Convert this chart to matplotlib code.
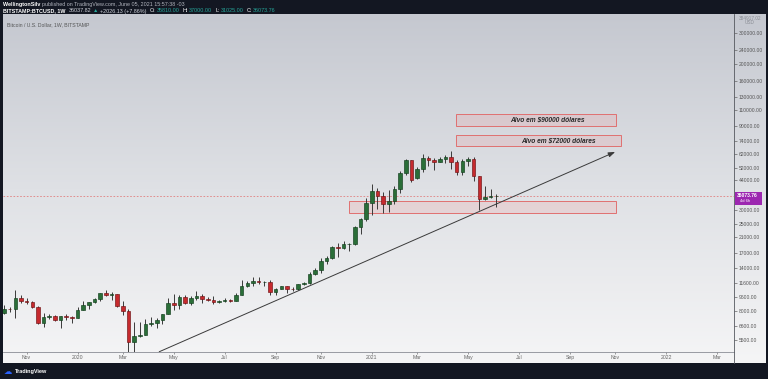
import numpy as np
import pandas as pd
import matplotlib
matplotlib.use('Agg')
import matplotlib.pyplot as plt
import matplotlib.dates as mdates
from matplotlib.patches import Rectangle
from matplotlib.lines import Line2D
from matplotlib.colors import LinearSegmentedColormap
from matplotlib.ticker import NullLocator

# ---------------- data ----------------
start_week = '2019-10-07'
opens = [7860, 8280, 8230, 9550, 9200, 9040, 8500, 6900, 7420, 7520, 7120, 7500, 7390,
         7350, 8170, 8700, 8970, 9330, 10150, 9910, 9960, 8540, 8040, 5360, 5830, 5880,
         6780, 6900, 7130, 7700, 8900, 8720, 9680, 8900, 9450, 9750, 9330, 9300, 9000,
         9100, 9250, 9200, 9930, 11050, 11550, 11900, 11650, 11700, 10250, 10680, 11080,
         10740, 10670, 11380, 11500, 13030, 13760, 15480, 15950, 18400, 18180, 19100,
         19250, 23860, 26450, 33000, 38200, 36000, 32300, 33500, 39250, 48600, 57400,
         45200, 51000, 59000, 57400, 55800, 58200, 59800, 56200, 49000, 56600, 58300,
         46400, 34700, 35600, 35810]
highs = [8700, 8420, 10540, 9950, 9500, 9100, 8550, 7850, 7750, 7650, 7520, 7700, 7550,
         8480, 9190, 9000, 9550, 10200, 10500, 10250, 9990, 9190, 8190, 6940, 6960, 7200,
         7470, 7300, 7730, 9480, 10070, 9950, 9900, 9740, 10380, 9990, 9600, 9800, 9300,
         9460, 9350, 10130, 12000, 11900, 12480, 12450, 11800, 12090, 10800, 11180, 11080,
         10950, 11480, 11720, 13350, 14100, 15950, 16500, 18800, 19500, 19900, 19400,
         24300, 26900, 34800, 41950, 40100, 37800, 38600, 40900, 49700, 58300, 57500,
         52600, 61700, 60600, 58600, 60000, 61200, 64900, 57500, 58400, 59500, 59600,
         46600, 40900, 39500, 37000]
lows = [7770, 7900, 7300, 8960, 8800, 8400, 6790, 6520, 7250, 7080, 6430, 7150, 6860,
        7350, 8100, 8250, 8880, 9120, 9750, 9300, 8450, 7650, 3850, 4450, 5700, 5860,
        6600, 6450, 6800, 7670, 8120, 8200, 8800, 8630, 9270, 8900, 9200, 8830, 8900,
        9050, 9000, 9150, 9900, 10950, 11100, 11450, 11150, 9880, 9880, 10650, 10140,
        10380, 10550, 11200, 11400, 12900, 13200, 14800, 15800, 16200, 18100, 17600,
        19000, 21900, 26100, 28100, 30400, 28900, 29200, 32300, 37400, 47100, 43000,
        45100, 49300, 53300, 50400, 55600, 55500, 51300, 47000, 47000, 53000, 43900,
        30000, 34300, 35000, 31025]
closes = [8280, 8230, 9550, 9200, 9040, 8500, 6900, 7420, 7520, 7120, 7500, 7390, 7350,
          8170, 8700, 8970, 9330, 10150, 9910, 9960, 8540, 8040, 5360, 5830, 5880, 6780,
          6900, 7130, 7700, 8900, 8720, 9680, 8900, 9450, 9750, 9330, 9300, 9000, 9100,
          9250, 9200, 9930, 11050, 11550, 11900, 11650, 11700, 10250, 10680, 11080, 10740,
          10670, 11380, 11500, 13030, 13760, 15480, 15950, 18400, 18180, 19100, 19250,
          23860, 26450, 33000, 38200, 36000, 32300, 33500, 39250, 48600, 57400, 44500,
          51000, 59000, 57400, 55800, 58200, 59800, 56200, 49000, 56600, 58300, 46400,
          34700, 35600, 35810, 36073.76]

price_ticks = [300000, 240000, 200000, 160000, 130000, 110000, 90000, 74000, 62000,
               52000, 44000, 30000, 25000, 21000, 17000, 14000, 11600, 9600, 8000,
               6600, 5500]
time_tick_dates = ['2019-11-04', '2020-01-06', '2020-03-02', '2020-05-04', '2020-07-06',
                   '2020-09-07', '2020-11-02', '2021-01-04', '2021-03-01', '2021-05-03',
                   '2021-07-05', '2021-09-06', '2021-11-01', '2022-01-03', '2022-03-07']
time_tick_labels = ['Nov', '2020', 'Mar', 'May', 'Jul', 'Sep', 'Nov', '2021', 'Mar',
                    'May', 'Jul', 'Sep', 'Nov', '2022', 'Mar']

zone_starts = ['2021-04-18', '2021-04-18', '2020-12-07']
zone_ends = ['2021-11-02', '2021-11-08', '2021-11-02']
zone_lows = [90000, 69000, 28800]
zone_highs = [104000, 79500, 33600]
zone_labels = ['Alvo em $90000 dólares', 'Alvo em $72000 dólares']
zone_label_dates = ['2021-08-09', '2021-08-23']
zone_label_prices = [97300, 73600]

trend_start = ('2020-04-16', 4720)
trend_end = ('2021-11-01', 63800)

last_price = 36073.76
axis_top_value = '384917.02'

# ---------------- figure ----------------
W, H = 768, 379
plt.rcParams['font.family'] = ['Liberation Sans', 'DejaVu Sans']
fig = plt.figure(figsize=(W / 100, H / 100), dpi=100, facecolor='#131722')


def fx(px):
    return px / W


def fy(py):
    return 1 - py / H


# gradient background of the chart pane
bg = fig.add_axes([fx(3), fy(363), fx(766) - fx(3), fy(14) - fy(363)])
grad = np.linspace(0, 1, 256).reshape(-1, 1)
cmap = LinearSegmentedColormap.from_list('g', ['#c5c8d0', '#dfe1e5', '#f5f5f6'])
bg.imshow(grad, aspect='auto', cmap=cmap, extent=[0, 1, 0, 1], origin='upper')
bg.axis('off')

ax = fig.add_axes([fx(3), fy(352), fx(734) - fx(3), fy(14) - fy(352)])
ax.set_facecolor('none')
ax.set_yscale('log')
ax.set_ylim(4705, 384917)
d0 = mdates.date2num(pd.Timestamp(start_week))
ax.set_xlim(d0 - 1.24, mdates.date2num(pd.Timestamp('2022-03-07')) + 21)

dates = pd.date_range(start_week, periods=len(opens), freq='7D')
xs = mdates.date2num(dates.to_pydatetime())
o = np.array(opens, float)
c = np.array(closes, float)
hi = np.array(highs, float)
lo = np.array(lows, float)
up = c >= o
fills = np.where(up, '#2a6e38', '#c62a2e')
edges = np.where(up, '#123d1c', '#6e1214')

ax.vlines(xs, lo, hi, color='#3a3a3a', lw=0.7, zorder=2)
ax.bar(xs, np.abs(c - o), bottom=np.minimum(o, c), width=4.4, color=fills,
       edgecolor=edges, linewidth=0.45, zorder=3)

# zones
for s, e, l, h in zip(zone_starts, zone_ends, zone_lows, zone_highs):
    xa = mdates.date2num(pd.Timestamp(s))
    xb = mdates.date2num(pd.Timestamp(e))
    ax.add_patch(Rectangle((xa, l), xb - xa, h - l, facecolor=(0.95, 0.55, 0.55, 0.18),
                           edgecolor='#e07070', linewidth=0.7, zorder=1.5))
for t, d, p in zip(zone_labels, zone_label_dates, zone_label_prices):
    ax.text(mdates.date2num(pd.Timestamp(d)), p, t, ha='center', va='center',
            fontsize=4.8, style='italic', fontweight='bold', color='#2a2a2a', zorder=4)

# trend line with arrow
ax.annotate('', xy=(mdates.date2num(pd.Timestamp(trend_end[0])), trend_end[1]),
            xytext=(mdates.date2num(pd.Timestamp(trend_start[0])), trend_start[1]),
            arrowprops=dict(arrowstyle='-|>,head_length=0.5,head_width=0.18',
                            color='#3a3a3a', lw=0.7, shrinkA=0, shrinkB=0,
                            mutation_scale=8), zorder=2.5)

# last price dashed line
ax.axhline(last_price, color='#e08080', lw=0.6, ls=(0, (2, 2)), zorder=1.8)

# axes styling
for sp in ['top', 'left', 'right']:
    ax.spines[sp].set_visible(False)
ax.spines['bottom'].set_color('#8a8d95')
ax.spines['bottom'].set_linewidth(0.6)
ax.yaxis.tick_right()
ax.set_yticks(price_ticks)
ax.set_yticklabels([f'{v:.2f}' for v in price_ticks])
ax.yaxis.set_minor_locator(NullLocator())
ax.tick_params(axis='y', length=2, width=0.5, color='#666', labelsize=3.6,
               labelcolor='#555', pad=1.5)
ax.set_xticks([mdates.date2num(pd.Timestamp(d)) for d in time_tick_dates])
ax.set_xticklabels(time_tick_labels)
ax.xaxis.set_minor_locator(NullLocator())
ax.tick_params(axis='x', length=1.2, width=0.5, color='#777', labelsize=3.7,
               labelcolor='#666', pad=1.2)

fig.add_artist(Line2D([fx(734), fx(734)], [fy(14), fy(363)], color='#55585f', lw=0.6))

# price label box
fig.canvas.draw()
py = ax.transData.transform((xs[-1], last_price))[1]
ypx = H - py
fig.add_artist(Rectangle((fx(735), fy(ypx + 9)), fx(762) - fx(735), fy(ypx - 4) - fy(ypx + 9),
                         facecolor='#9c27b0', edgecolor='none'))
fig.text(fx(737), fy(ypx + 0.3), f'{last_price:.2f}', color='white', fontsize=3.6,
         fontweight='bold', va='center', ha='left')
fig.text(fx(740), fy(ypx + 5.6), '4d 6h', color='white', fontsize=3.0,
         va='center', ha='left')

fig.text(fx(739), fy(18), axis_top_value, color='#8a8d95', fontsize=3.4, va='center')
fig.text(fx(745), fy(23), 'USD', color='#8a8d95', fontsize=3.4, va='center')

# pane title
fig.text(fx(7), fy(25), 'Bitcoin / U.S. Dollar, 1W, BITSTAMP', color='#555',
         fontsize=3.7, va='center')

# header
renderer = fig.canvas.get_renderer()


def seg_line(segments, x_px, y_px, size):
    x = x_px
    for text, color, weight, gap in segments:
        t = fig.text(x / W, fy(y_px), text, color=color, fontsize=size,
                     fontweight=weight, va='center', ha='left',
                     family=['Liberation Sans', 'DejaVu Sans'])
        bb = t.get_window_extent(renderer=renderer)
        x += bb.width + gap


seg_line([('WellingtonSilv', 'white', 'bold', 2.0),
          ('published on TradingView.com, June 05, 2021 15:57:38 -03', '#b2b5be', 'normal', 0)],
         3, 4.5, 3.9)
teal = '#26a69a'
seg_line([('BITSTAMP:BTCUSD, 1W', 'white', 'bold', 3),
          ('36037.82', '#d1d4dc', 'normal', 2),
          ('▲', teal, 'normal', 2),
          ('+2026.13 (+7.86%)', '#d1d4dc', 'normal', 3),
          ('O:', 'white', 'normal', 1), ('35810.00', teal, 'normal', 3),
          ('H:', 'white', 'normal', 1), ('37000.00', teal, 'normal', 3),
          ('L:', 'white', 'normal', 1), ('31025.00', teal, 'normal', 3),
          ('C:', 'white', 'normal', 1), ('36073.76', teal, 'normal', 0)],
         3, 11, 3.9)

# footer logo
fig.text(fx(4), fy(371), '☁', color='#2962ff', fontsize=6, va='center', ha='left',
         family=['DejaVu Sans'])
fig.text(fx(15), fy(371), 'TradingView', color='white', fontsize=4.0, va='center',
         ha='left', fontweight='bold')

fig.savefig('out.png', dpi=100, facecolor=fig.get_facecolor())
